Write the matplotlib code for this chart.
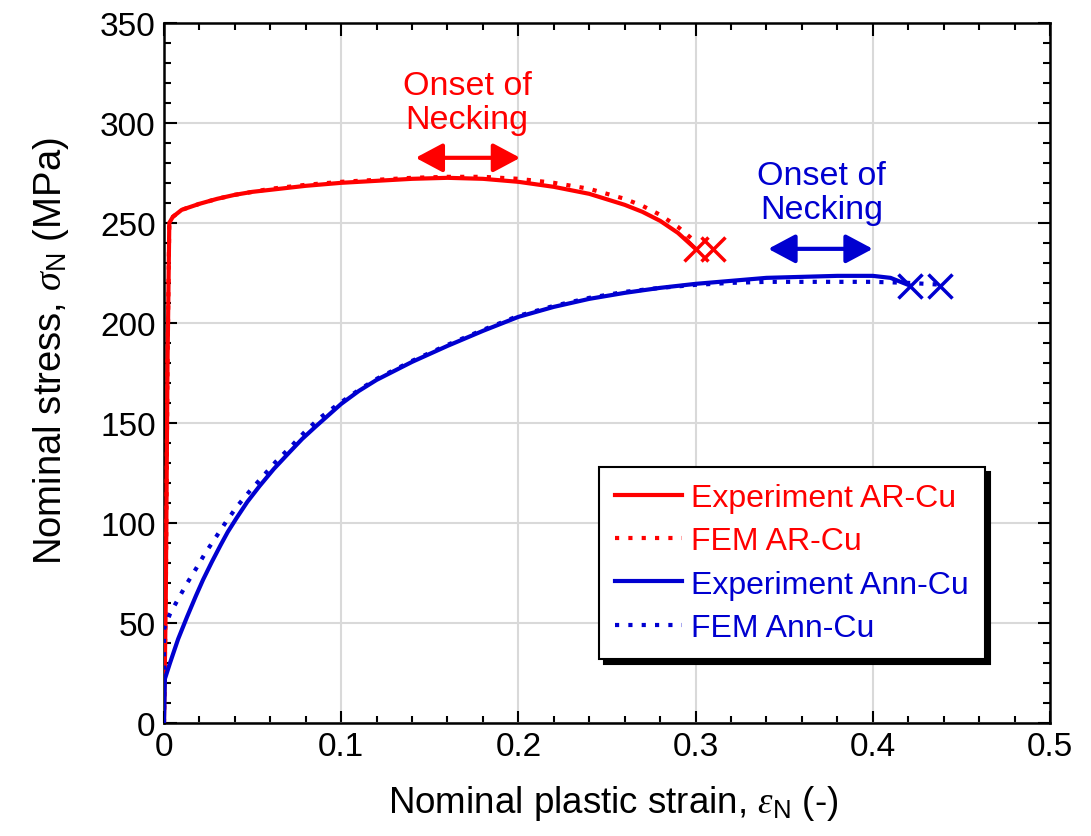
import numpy as np
import matplotlib
matplotlib.use('Agg')
import matplotlib.pyplot as plt
from matplotlib.ticker import MultipleLocator

plt.rcParams['font.family'] = ['Liberation Sans', 'DejaVu Sans']
plt.rcParams['mathtext.fontset'] = 'custom'
plt.rcParams['mathtext.rm'] = 'Liberation Sans'
plt.rcParams['mathtext.it'] = 'Liberation Serif:italic'

# data (strain, MPa)
exp_ar_x = [0.0, 0.001, 0.002, 0.003, 0.005, 0.01, 0.02, 0.03, 0.04, 0.05, 0.06, 0.08, 0.1, 0.12, 0.14, 0.16,
            0.18, 0.2, 0.22, 0.24, 0.26, 0.27, 0.28, 0.29, 0.30]
exp_ar_y = [0.0, 60.0, 180.0, 250.0, 253.0, 256.5, 259.5, 262.0, 264.0, 265.5, 266.5, 268.5, 270.0, 271.0, 272.0,
            272.5, 272.0, 270.5, 268.0, 264.5, 259.0, 255.5, 251.0, 245.0, 237.0]

fem_ar_x = [0.0, 0.001, 0.002, 0.003, 0.005, 0.01, 0.02, 0.03, 0.04, 0.05, 0.06, 0.08, 0.1, 0.12, 0.14, 0.16,
            0.18, 0.2, 0.22, 0.24, 0.26, 0.27, 0.28, 0.29, 0.30]
fem_ar_y = [0.0, 60.0, 180.0, 250.0, 253.0, 256.5, 259.5, 262.0, 264.0, 265.5, 267.0, 269.0, 270.5, 271.5, 272.5,
            273.0, 273.0, 272.0, 270.0, 267.0, 262.0, 258.5, 254.0, 248.0, 240.5]

exp_ann_x = [0.0, 0.0005, 0.0034, 0.008, 0.013, 0.018, 0.022, 0.027, 0.032, 0.036, 0.041, 0.047, 0.054, 0.062,
             0.071, 0.078, 0.086, 0.093, 0.1, 0.11, 0.12, 0.14, 0.16, 0.18, 0.2, 0.22, 0.24, 0.26, 0.28, 0.3,
             0.32, 0.34, 0.36, 0.38, 0.4, 0.41, 0.42]
exp_ann_y = [0.0, 22.0, 30.0, 42.0, 53.0, 63.5, 71.5, 80.5, 89.0, 95.5, 102.5, 110.5, 118.5, 127.0, 135.5, 142.0,
             148.5, 154.0, 159.5, 166.0, 171.5, 180.5, 188.5, 196.0, 203.0, 208.0, 212.0, 215.0, 217.5, 219.5,
             221.0, 222.5, 223.0, 223.5, 223.5, 222.5, 219.0]

fem_ann_x = [0.0, 0.0, 0.0034, 0.008, 0.0128, 0.018, 0.023, 0.029, 0.035, 0.041, 0.048, 0.055, 0.063, 0.072, 0.08,
             0.088, 0.097, 0.11, 0.12, 0.14, 0.16, 0.18, 0.2, 0.22, 0.24, 0.26, 0.28, 0.3, 0.32, 0.34, 0.36, 0.38,
             0.4, 0.42, 0.44]
fem_ann_y = [0.0, 47.0, 54.5, 62.0, 69.5, 77.0, 84.5, 92.5, 100.5, 108.0, 115.5, 122.5, 130.5, 138.5, 146.0,
             152.5, 158.5, 166.5, 172.0, 181.0, 189.0, 196.5, 203.5, 208.5, 212.5, 215.5, 217.5, 219.0, 220.0,
             220.5, 220.5, 220.5, 220.5, 220.0, 219.0]

x_marks_ar = [0.300, 0.310]
y_marks_ar = [237.0, 237.0]
x_marks_ann = [0.421, 0.438]
y_marks_ann = [218.5, 218.5]

red = '#ff0000'
blue = '#0000d0'

fig = plt.figure(figsize=(10.91, 8.37), dpi=100)
ax = fig.add_axes([0.1503, 0.135, 0.8121, 0.8366])

ax.grid(True, color='#d9d9d9', lw=1.5, zorder=0)
ax.set_axisbelow(True)

ax.plot(exp_ar_x, exp_ar_y, color=red, lw=3, label='Experiment AR-Cu', zorder=3)
ax.plot(fem_ar_x, fem_ar_y, color=red, lw=3, ls=(0, (1, 2.2)), label='FEM AR-Cu', zorder=3)
ax.plot(exp_ann_x, exp_ann_y, color=blue, lw=3, label='Experiment Ann-Cu', zorder=3)
ax.plot(fem_ann_x, fem_ann_y, color=blue, lw=3, ls=(0, (1, 2.2)), label='FEM Ann-Cu', zorder=3)

ax.plot(x_marks_ar, y_marks_ar, ls='none', marker='x', ms=17, mew=2.5, color=red, zorder=4)
ax.plot(x_marks_ann, y_marks_ann, ls='none', marker='x', ms=17, mew=2.5, color=blue, zorder=4)

# onset of necking annotations
arrow_style = '<|-|>,head_length=0.75,head_width=0.4'
ax.annotate('', xy=(0.142, 282.5), xytext=(0.201, 282.5),
            arrowprops=dict(arrowstyle=arrow_style, color=red, lw=3, mutation_scale=22,
                            shrinkA=0, shrinkB=0))
ax.text(0.171, 310, 'Onset of\nNecking', color=red, fontsize=24.5, ha='center', va='center',
        linespacing=1.12)
ax.annotate('', xy=(0.341, 237), xytext=(0.400, 237),
            arrowprops=dict(arrowstyle=arrow_style, color=blue, lw=3, mutation_scale=22,
                            shrinkA=0, shrinkB=0))
ax.text(0.371, 265, 'Onset of\nNecking', color=blue, fontsize=24.5, ha='center', va='center',
        linespacing=1.12)

ax.set_xlim(0, 0.5)
ax.set_ylim(0, 350)
ax.xaxis.set_major_locator(MultipleLocator(0.1))
ax.xaxis.set_minor_locator(MultipleLocator(0.02))
ax.yaxis.set_major_locator(MultipleLocator(50))
ax.yaxis.set_minor_locator(MultipleLocator(10))
ax.set_xticks([0, 0.1, 0.2, 0.3, 0.4, 0.5])
ax.set_xticklabels(['0', '0.1', '0.2', '0.3', '0.4', '0.5'])
ax.tick_params(which='both', direction='in', top=True, right=True, labelsize=24, width=1.5)
ax.tick_params(which='major', length=9, pad=6)
ax.tick_params(which='minor', length=5)
for s in ax.spines.values():
    s.set_linewidth(1.8)

ax.set_xlabel(r'Nominal plastic strain, $\it{\varepsilon}_{\rm N}$ (-)', fontsize=26.5)
ax.set_ylabel(r'Nominal stress, $\sigma_{\rm N}$ (MPa)', fontsize=27.5)
ax.xaxis.set_label_coords(0.507, -0.085)
ax.yaxis.set_label_coords(-0.105, 0.533)

leg = ax.legend(loc='lower right', bbox_to_anchor=(0.9266, 0.0914), fontsize=23, frameon=True,
                fancybox=False, edgecolor='black', handlelength=2.1, handletextpad=0.3,
                labelspacing=0.42, borderpad=0.5, borderaxespad=0,
                shadow={'color': 'black', 'alpha': 1.0, 'ox': 3.6, 'oy': -3.6})
leg.get_frame().set_linewidth(1.5)
for txt, c in zip(leg.get_texts(), [red, red, blue, blue]):
    txt.set_color(c)

fig.savefig('out.png', dpi=100)
